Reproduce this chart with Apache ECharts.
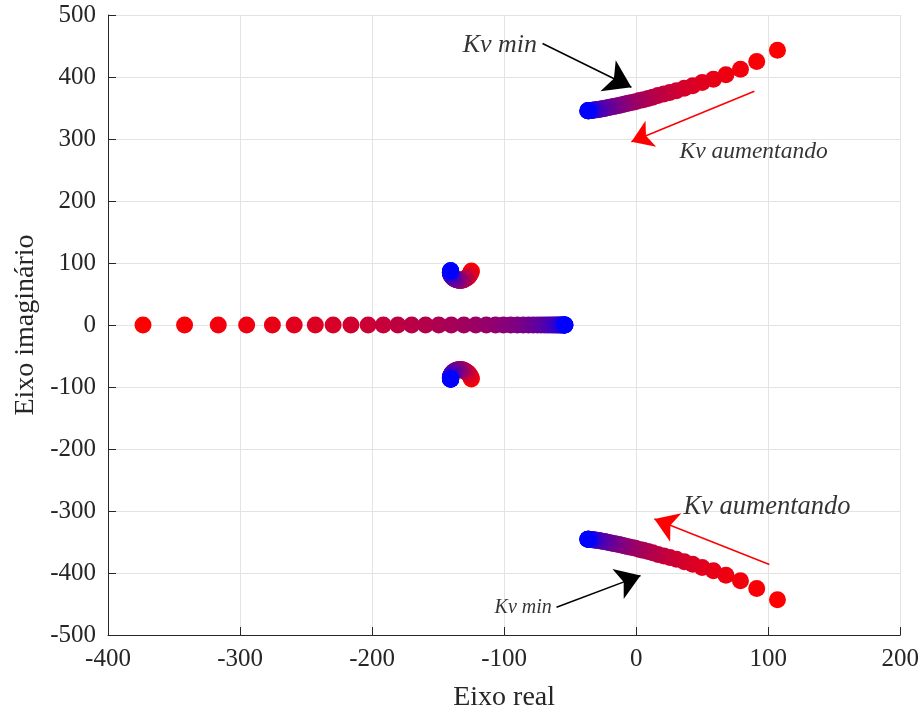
<!DOCTYPE html>
<html lang="pt">
<head>
    <meta charset="UTF-8">
    <script src="https://cdn.jsdelivr.net/npm/echarts@6/dist/echarts.min.js"></script>
    <title>Lugar das raizes</title>
    <style>
        html, body { margin: 0; padding: 0; background: #fff; }
    </style>
</head>
<body>
<div id="main" style="width: 922px;height:717px;"></div>
<script type="text/javascript">

    // indice do ganho Kv (44 = Kv max, vermelho; 0 = Kv min, azul)
    var kvIndex = [44,43,42,41,40,39,38,37,36,35,34,33,32,31,30,29,28,27,26,25,24,23,22,
        21,20,19,18,17,16,15,14,13,12,11,10,9,8,7,6,5,4,3,2,1,0];

    // polo real
    var realX = [-373.5,-342,-316.5,-295,-275.5,-259,-243,-229.5,-216,-203,-191.5,-180.5,-170,
        -159.5,-149.5,-140,-130.5,-121.5,-113.5,-106.5,-100.5,-95,-90,-85.5,-81.5,-78,-74.8,-72,
        -69.5,-67.3,-65.3,-63.5,-61.9,-60.5,-59.2,-58.1,-57.1,-56.3,-55.6,-55,-54.6,-54.3,-54.1,-54,-53.9];
    var realY = [0,0,0,0,0,0,0,0,0,0,0,0,0,0,0,0,0,0,0,0,0,0,0,0,0,0,0,0,0,0,0,0,0,0,0,0,0,0,0,0,0,0,0,0,0];

    // par complexo dominante (parte superior / inferior)
    var upperX = [107,91.3,79,68,58.5,50,42.8,36.5,30.5,25.5,21,16.5,12.5,9,5.5,2.5,-0.5,-3.3,-6,-8.5,
        -10.8,-13,-15.1,-17.1,-19,-20.8,-22.5,-24.1,-25.6,-27,-28.3,-29.5,-30.6,-31.6,-32.5,-33.3,-34,
        -34.6,-35.1,-35.5,-35.9,-36.2,-36.4,-36.6,-36.7];
    var upperY = [443,425,412.5,403.5,396.5,391,386,382,378,375,372.5,370,367.5,365.5,363.5,362,360,
        358.8,357.5,356.3,355.2,354.2,353.2,352.3,351.5,350.7,350,349.3,348.7,348.2,347.7,347.3,347,
        346.7,346.4,346.2,346,345.9,345.8,345.7,345.6,345.6,345.6,345.6,345.6];
    var lowerX = [107,91.3,79,68,58.5,50,42.8,36.5,30.5,25.5,21,16.5,12.5,9,5.5,2.5,-0.5,-3.3,-6,-8.5,
        -10.8,-13,-15.1,-17.1,-19,-20.8,-22.5,-24.1,-25.6,-27,-28.3,-29.5,-30.6,-31.6,-32.5,-33.3,-34,
        -34.6,-35.1,-35.5,-35.9,-36.2,-36.4,-36.6,-36.7];
    var lowerY = [-443,-425,-412.5,-403.5,-396.5,-391,-386,-382,-378,-375,-372.5,-370,-367.5,-365.5,
        -363.5,-362,-360,-358.8,-357.5,-356.3,-355.2,-354.2,-353.2,-352.3,-351.5,-350.7,-350,-349.3,
        -348.7,-348.2,-347.7,-347.3,-347,-346.7,-346.4,-346.2,-346,-345.9,-345.8,-345.7,-345.6,-345.6,
        -345.6,-345.6,-345.6];

    // par complexo perto de -140 +/- 87j
    var loopX = [-124.8,-125,-125.3,-125.7,-126.1,-126.6,-127.1,-127.6,-128.2,-128.8,-129.4,-130,
        -130.6,-131.2,-131.8,-132.4,-133,-133.6,-134.2,-134.8,-135.4,-136,-136.6,-137.2,-137.7,-138.2,
        -138.7,-139.1,-139.5,-139.8,-140.1,-140.3,-140.5,-140.6,-140.7,-140.7,-140.7,-140.7,-140.6,
        -140.6,-140.6,-140.5,-140.5,-140.5,-140.5];
    var loopUpY = [87,85.3,83.7,82.2,80.8,79.5,78.3,77.2,76.2,75.3,74.5,73.8,73.2,72.7,72.3,72.1,72,72,
        72.1,72.3,72.6,73,73.5,74.1,74.8,75.6,76.5,77.4,78.4,79.4,80.4,81.4,82.3,83.1,83.9,84.6,85.2,
        85.7,86.1,86.5,86.8,87.1,87.3,87.4,87.5];
    var loopDownY = [-87,-85.3,-83.7,-82.2,-80.8,-79.5,-78.3,-77.2,-76.2,-75.3,-74.5,-73.8,-73.2,-72.7,
        -72.3,-72.1,-72,-72,-72.1,-72.3,-72.6,-73,-73.5,-74.1,-74.8,-75.6,-76.5,-77.4,-78.4,-79.4,-80.4,
        -81.4,-82.3,-83.1,-83.9,-84.6,-85.2,-85.7,-86.1,-86.5,-86.8,-87.1,-87.3,-87.4,-87.5];

    // anotacoes: setas [x0, y0, x1, y1, cor, ponta] e textos [x, y, texto, tamanho]
    var arrows = [
        [-70.9, 454, -3.6, 383.5, '#000000', 26],
        [89.5, 377, -3.6, 295.5, '#ff0000', 21],
        [100.9, -386.4, 13.8, -312.8, '#ff0000', 23],
        [-60.3, -455.3, 3.3, -404.2, '#000000', 24]
    ];
    var notes = [
        [-131.4, 450.8, 'Kv min', 26],
        [32.8, 279.5, 'Kv aumentando', 23.5],
        [35.8, -293.6, 'Kv aumentando', 26.5],
        [-107.2, -455.3, 'Kv min', 20]
    ];

    function pts(xs, ys) {
        var out = [];
        for (var i = 0; i < xs.length; i++) {
            out.push([xs[i], ys[i], kvIndex[i]]);
        }
        return out;
    }

    var serif = 'Liberation Serif';
    var axisColor = '#262626';

    var myChart = echarts.init(document.getElementById('main'));

    var polos = [
        pts(realX, realY), pts(upperX, upperY), pts(lowerX, lowerY),
        pts(loopX, loopUpY), pts(loopX, loopDownY)
    ];
    var series = polos.map(function (d) {
        return {
            type: 'scatter',
            data: d,
            symbolSize: 17,
            silent: true,
            itemStyle: { opacity: 1 }
        };
    });

    series.push({
        type: 'scatter',
        symbolSize: 0,
        silent: true,
        z: 5,
        data: notes.map(function (n) {
            return {
                value: [n[0], n[1], 0],
                label: {
                    show: true,
                    position: 'right',
                    distance: 0,
                    formatter: n[2],
                    fontFamily: serif,
                    fontStyle: 'italic',
                    fontSize: n[3],
                    color: '#000'
                }
            };
        }),
        markLine: {
            silent: true,
            animation: false,
            symbol: ['none', 'arrow'],
            label: { show: false },
            data: arrows.map(function (a) {
                return [
                    { coord: [a[0], a[1]], symbolSize: a[5], lineStyle: { color: a[4], width: 1.5, type: 'solid' } },
                    { coord: [a[2], a[3]], symbolSize: a[5] }
                ];
            })
        }
    });

    var option = {
        animation: false,
        grid: { left: 108, right: 21, top: 15, bottom: 77 },
        visualMap: {
            show: false,
            type: 'continuous',
            dimension: 2,
            seriesIndex: [0, 1, 2, 3, 4],
            min: 0,
            max: 44,
            inRange: { color: ['#0000ff', '#ff0000'] }
        },
        xAxis: {
            type: 'value',
            min: -400,
            max: 200,
            interval: 100,
            name: 'Eixo real',
            nameLocation: 'middle',
            nameGap: 49,
            nameTextStyle: { fontFamily: serif, fontSize: 28, color: axisColor },
            axisLine: { onZero: false, lineStyle: { color: axisColor, width: 1 } },
            axisTick: { inside: true, length: 8, lineStyle: { color: axisColor } },
            axisLabel: { fontFamily: serif, fontSize: 25, color: axisColor, margin: 12 },
            splitLine: { show: true, lineStyle: { color: '#e3e3e3', width: 1 } }
        },
        yAxis: {
            type: 'value',
            min: -500,
            max: 500,
            interval: 100,
            name: 'Eixo imaginário',
            nameLocation: 'middle',
            nameGap: 68,
            nameTextStyle: { fontFamily: serif, fontSize: 28, color: axisColor },
            axisLine: { show: true, onZero: false, lineStyle: { color: axisColor, width: 1 } },
            axisTick: { show: true, inside: true, length: 8, lineStyle: { color: axisColor } },
            axisLabel: { fontFamily: serif, fontSize: 25, color: axisColor, margin: 12 },
            splitLine: { show: true, lineStyle: { color: '#e3e3e3', width: 1 } }
        },
        series: series
    };

    myChart.setOption(option);

</script>
</body>
</html>
